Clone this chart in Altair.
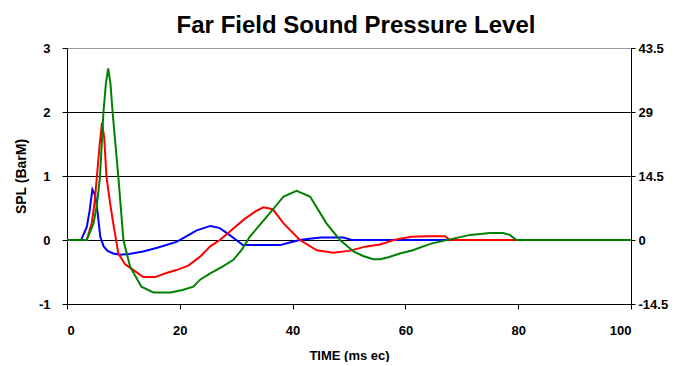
import altair as alt
import pandas as pd

t_blue = [0, 2.5, 3.5, 4.0, 4.5, 5.0, 5.4, 5.9, 6.5, 7.2, 8.2, 9.4, 11, 13.5, 16, 19.4, 21, 23, 25.4, 27, 28.5, 30, 31.2, 34, 37.8, 39.5, 41.3, 43, 45, 49, 50.5, 100]
v_blue = [0, 0, 0.2, 0.45, 0.79, 0.7, 0.45, 0.05, -0.1, -0.17, -0.21, -0.23, -0.22, -0.18, -0.12, -0.03, 0.05, 0.15, 0.22, 0.19, 0.1, 0.0, -0.08, -0.08, -0.08, -0.04, 0.0, 0.02, 0.04, 0.04, 0.0, 0]

t_red = [0, 3.5, 4.4, 4.9, 5.3, 5.8, 6.2, 6.6, 7.0, 7.6, 8.2, 9.1, 10.3, 11.8, 13.5, 15.6, 17.5, 19.4, 21.5, 23.6, 25.4, 27.1, 29.5, 31.5, 33.5, 34.8, 36.5, 38.4, 41.3, 44.3, 47.2, 50, 53.1, 55.5, 58.4, 61, 64, 67, 67.9, 100]
v_red = [0, 0, 0.27, 0.6, 0.99, 1.5, 1.83, 1.6, 0.99, 0.6, 0.26, -0.21, -0.38, -0.47, -0.58, -0.58, -0.52, -0.47, -0.4, -0.26, -0.1, 0.0, 0.18, 0.33, 0.45, 0.51, 0.48, 0.26, 0.0, -0.16, -0.2, -0.17, -0.1, -0.07, 0.01, 0.05, 0.06, 0.06, 0.0, 0]

t_green = [0, 3.5, 4.7, 5.3, 5.85, 6.45, 6.9, 7.3, 7.7, 8.1, 9.1, 10, 11.2, 13.2, 15.3, 18.3, 20.5, 22.4, 23.6, 25.4, 27.5, 29.5, 31, 32.4, 35.4, 38.4, 40.7, 43.1, 46, 48.4, 50.8, 52.5, 54.3, 55.5, 57, 59, 61.3, 64.4, 67.9, 71.5, 75, 77.3, 78.5, 79.7, 100]
v_green = [0, 0, 0.26, 0.55, 0.99, 1.98, 2.45, 2.68, 2.45, 1.98, 0.99, 0.0, -0.42, -0.73, -0.82, -0.82, -0.78, -0.73, -0.62, -0.52, -0.42, -0.31, -0.15, 0.05, 0.36, 0.68, 0.77, 0.68, 0.26, 0.0, -0.18, -0.25, -0.3, -0.3, -0.27, -0.21, -0.16, -0.06, 0.01, 0.08, 0.11, 0.11, 0.08, 0.0, 0]

left_ticks = [-1, 0, 1, 2, 3]
right_ticks = [-14.5, 0, 14.5, 29, 43.5]
x_ticks = [0, 20, 40, 60, 80, 100]

FONT = "Liberation Sans"

xscale = alt.Scale(domain=[0, 100], nice=False)
yscale = alt.Scale(domain=[-1, 3], nice=False)

xaxis = alt.Axis(values=x_ticks, title="TIME (ms ec)", grid=False, domainColor="black",
                 tickColor="black", tickSize=5, labelPadding=15, titlePadding=12,
                 labelFont=FONT, labelFontSize=13, labelFontWeight="bold", labelColor="black",
                 titleFont=FONT, titleFontSize=13, titleFontWeight="bold", titleColor="black")
yaxis = alt.Axis(values=left_ticks, title="SPL (BarM)", grid=True, labelExpr="datum.value + ''",
                 gridColor={"condition": {"test": "datum.value == 3", "value": "#999999"}, "value": "black"},
                 gridOpacity=1, domainColor="black", tickColor="black", tickSize=5,
                 labelPadding=12, titlePadding=10,
                 labelFont=FONT, labelFontSize=13, labelFontWeight="bold", labelColor="black",
                 titleFont=FONT, titleFontSize=14, titleFontWeight="bold", titleColor="black")


def series(t, v, color):
    df = pd.DataFrame({"t": t, "v": v})
    return alt.Chart(df).mark_line(color=color, strokeWidth=2).encode(
        x=alt.X("t:Q", scale=xscale, axis=xaxis),
        y=alt.Y("v:Q", scale=yscale, axis=yaxis),
    )


lines = alt.layer(series(t_blue, v_blue, "#0000FF"),
                  series(t_red, v_red, "#FF0000"),
                  series(t_green, v_green, "#008000"))

right_df = pd.DataFrame({"r": right_ticks})
right = alt.Chart(right_df).mark_rule(opacity=0).encode(
    y=alt.Y("r:Q", scale=alt.Scale(domain=[-14.5, 43.5], nice=False),
            axis=alt.Axis(orient="right", values=right_ticks, title=None, grid=False,
                          labelExpr="datum.value + ''",
                          domainColor="black", tickColor="black", tickSize=4, labelPadding=3,
                          labelFont=FONT, labelFontSize=13, labelFontWeight="bold", labelColor="black"))
)

chart = alt.layer(lines, right).resolve_scale(y="independent").properties(
    width=564, height=256,
    autosize=alt.AutoSizeParams(type="none"),
    padding={"left": 59, "top": 40, "right": 40, "bottom": 58},
    title=alt.Title("Far Field Sound Pressure Level", font=FONT, fontSize=24,
                    fontWeight="bold", color="black", offset=4, dx=7),
).configure_view(stroke=None).configure(background="white")

chart.save("out.html", embed_options={"renderer": "svg", "actions": False})
